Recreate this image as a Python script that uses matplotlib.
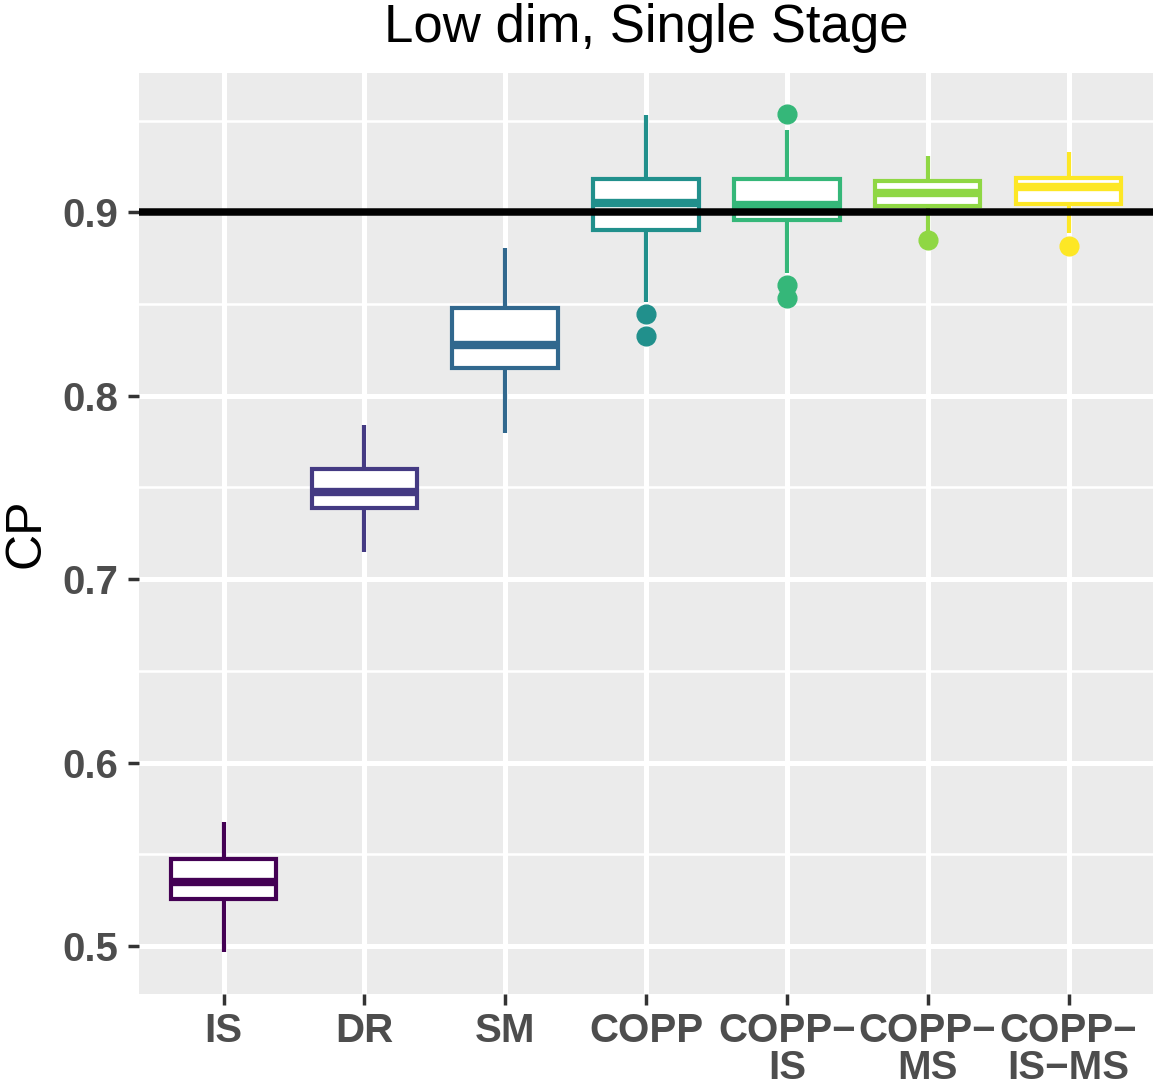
import matplotlib
matplotlib.use("Agg")
import matplotlib.pyplot as plt
import numpy as np

plt.rcParams['font.family'] = ['Liberation Sans', 'DejaVu Sans']

categories = ["IS", "DR", "SM", "COPP", "COPP\u2212\nIS", "COPP\u2212\nMS", "COPP\u2212\nIS\u2212MS"]
colors = ["#440154", "#443A83", "#31688E", "#21908C", "#35B779", "#8FD744", "#FDE725"]
q1 = [0.5254, 0.7386, 0.8151, 0.8906, 0.8960, 0.9037, 0.9047]
med = [0.5350, 0.7475, 0.8278, 0.9051, 0.9038, 0.9106, 0.9136]
q3 = [0.5472, 0.7602, 0.8478, 0.9182, 0.9182, 0.9173, 0.9188]
whislo = [0.4965, 0.7147, 0.7796, 0.8514, 0.8670, 0.8896, 0.8888]
whishi = [0.5676, 0.7838, 0.8807, 0.9533, 0.9451, 0.9306, 0.9327]
outliers = [[], [], [], [0.8447, 0.8327], [0.9537, 0.8605, 0.8533], [0.8847], [0.8818]]
target = 0.9

fig = plt.figure(figsize=(11.53, 10.91), dpi=100)
ax = fig.add_axes([139/1153, 97/1091, 1 - 139/1153, (994-73)/1091])
ax.set_facecolor("#EBEBEB")
for s in ax.spines.values():
    s.set_visible(False)

pos = np.arange(1, len(categories) + 1)
stats = []
for i in range(len(categories)):
    stats.append(dict(med=med[i], q1=q1[i], q3=q3[i], whislo=whislo[i], whishi=whishi[i],
                      fliers=np.array(outliers[i]), label=categories[i]))

lw = 3.0
for i, st in enumerate(stats):
    c = colors[i]
    ax.bxp([st], positions=[pos[i]], widths=0.75, patch_artist=True, showcaps=False,
           boxprops=dict(facecolor="white", edgecolor=c, linewidth=lw),
           whiskerprops=dict(color=c, linewidth=lw, solid_capstyle='butt'),
           medianprops=dict(color=c, linewidth=lw * 2, solid_capstyle='butt'),
           flierprops=dict(marker='o', markerfacecolor=c, markeredgecolor=c, markersize=13.5),
           zorder=3)

ax.axhline(target, color="black", linewidth=5.4, zorder=5)

ax.set_xlim(0.4, 7.6)
ax.set_ylim(0.4738, 0.976)
ax.set_xticks(pos)
ax.set_xticklabels(categories, fontsize=29, fontweight='bold', color="#4D4D4D", linespacing=0.95)
ax.set_yticks([0.5, 0.6, 0.7, 0.8, 0.9])
ax.set_yticklabels(["0.5", "0.6", "0.7", "0.8", "0.9"], fontsize=29, fontweight='bold', color="#4D4D4D")
ax.set_yticks([0.55, 0.65, 0.75, 0.85, 0.95], minor=True)
ax.tick_params(axis='both', which='major', length=8, width=2.5, color="#333333", pad=7)
ax.tick_params(axis='x', which='major', pad=5)
ax.tick_params(axis='y', which='minor', length=0)
ax.grid(True, which='major', color='white', linewidth=3.6, zorder=0)
ax.grid(True, which='minor', axis='y', color='white', linewidth=1.8, zorder=0)
ax.set_axisbelow(True)

ax.set_ylabel("CP", fontsize=36, color="black")
ax.yaxis.set_label_coords(-0.088, 0.5)
ax.set_title("Low dim, Single Stage", fontsize=38, color="black", pad=22)

fig.savefig("out.png", dpi=100)
